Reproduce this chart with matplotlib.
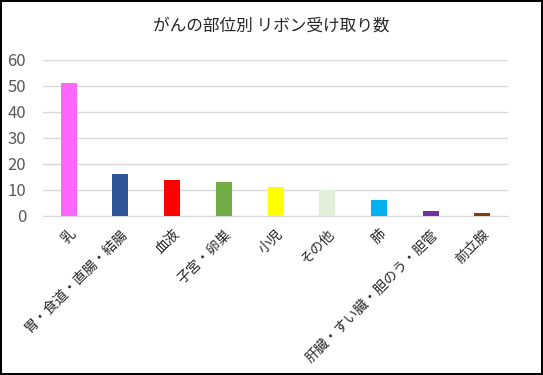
import matplotlib
matplotlib.use("Agg")
import matplotlib.pyplot as plt

plt.rcParams['font.family'] = ['Noto Sans CJK JP', 'DejaVu Sans']

categories = ["乳", "胃・食道・直腸・結腸", "血液", "子宮・卵巣", "小児", "その他", "肺", "肝臓・すい臓・胆のう・胆管", "前立腺"]
values = [51, 16, 14, 13, 11, 10, 6, 2, 1]
colors = ["#ff66ff", "#2f5597", "#ff0000", "#70ad47", "#ffff00", "#e2efda", "#00b0f0", "#7030a0", "#843c0c"]
yticks = [0, 10, 20, 30, 40, 50, 60]

fig = plt.figure(figsize=(5.43, 3.75), dpi=100)
fig.patch.set_edgecolor("black")
fig.patch.set_linewidth(1.5)
ax = fig.add_axes([0.079, 0.424, 0.857, 0.416])
x = list(range(len(categories)))
ax.bar(x, values, width=0.31, color=colors, zorder=3)
ax.set_xlim(-0.5, len(categories) - 0.5)
ax.set_ylim(0, 60)
ax.set_yticks(yticks)
ax.grid(axis="y", color="#d9d9d9", linewidth=1, zorder=0)
for s in ["top", "right", "left"]:
    ax.spines[s].set_visible(False)
ax.spines["bottom"].set_color("#d9d9d9")
ax.tick_params(axis="y", length=0, labelsize=12, labelcolor="#595959", pad=12)
ax.tick_params(axis="x", length=0, pad=8)
ax.set_xticks(x)
ax.set_xticklabels(categories, rotation=45, ha="right", va="top", rotation_mode="anchor", fontsize=10, color="#262626")
fig.text(0.5, 0.93, "がんの部位別 リボン受け取り数", ha="center", va="center", fontsize=12, color="#262626")
fig.savefig("out.png", dpi=100, edgecolor=fig.get_edgecolor())
